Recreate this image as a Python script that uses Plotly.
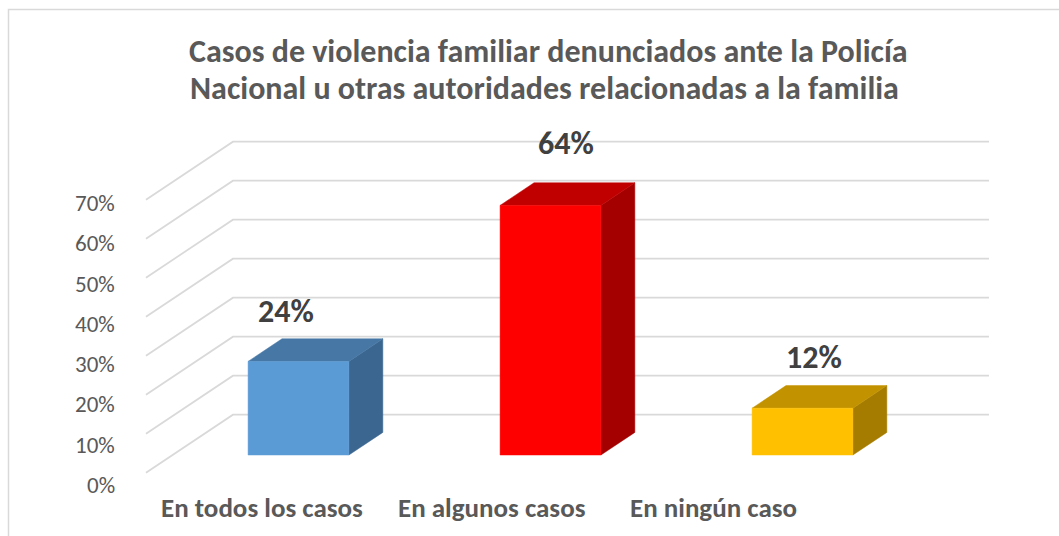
import plotly.graph_objects as go

# ---------------- data ----------------
categories = ["En todos los casos", "En algunos casos", "En ningún caso"]
values = [24, 64, 12]                       # percent
data_labels = ["24%", "64%", "12%"]
y_ticks = [0, 10, 20, 30, 40, 50, 60, 70]
y_tick_labels = ["0%", "10%", "20%", "30%", "40%", "50%", "60%", "70%"]
title_lines = ["Casos de violencia familiar denunciados ante la Policía",
               "Nacional u otras autoridades relacionadas a la familia"]

# ---------------- style ----------------
front_colors = ["#5B9BD5", "#FF0000", "#FFC000"]
top_colors = ["#4677A5", "#C00000", "#C39200"]
side_colors = ["#3A6690", "#A40000", "#A67C00"]
FONT = "Carlito, Calibri, Lato, 'Open Sans', sans-serif"
GRID_COLOR = "#D9D9D9"
TEXT_GREY = "#595959"
LABEL_GREY = "#404040"

W, H = 1059, 536
PX_PER_CAT = 252.0      # pixels between categories
PX_PER_PCT = 3.9        # pixels per 1 %
X0_PX = 298.5           # pixel x of category 0 (front face centre)
Y0_PX = 455.0           # pixel y of 0 % on the bars' front plane

# pseudo-3D geometry (depth 0 = front of floor, 1 = back wall)
DX = 87 / PX_PER_CAT    # full depth shift in x (data units)
DY = 58 / PX_PER_PCT    # full depth shift in y (data units)
F0 = 0.305              # depth of bar front faces
BAR_DEPTH = 0.39
BAR_W = 0.40

# label nudges (pixels), styling only
data_label_shift = [(-12.5, 50), (15.5, 62), (11, 51)]
cat_label_shift = [(-37, -52), (-59, -52), (-89, -52)]
title_line_px = [(548, 51), (544, 88)]


def proj(x, v, d):
    return x + (d - F0) * DX, v + (d - F0) * DY


fig = go.Figure()

# back wall / side wall gridlines
gx, gy = [], []
n = len(categories)
for t in y_ticks:
    for (x, d) in [(-0.5, 0.0), (-0.5, 1.0), (n - 0.5, 1.0)]:
        px, py = proj(x, t, d)
        gx.append(px)
        gy.append(py)
    gx.append(None)
    gy.append(None)
fig.add_trace(go.Scatter(x=gx, y=gy, mode="lines",
                         line=dict(color=GRID_COLOR, width=1.7),
                         hoverinfo="skip", showlegend=False))

# bars: side, top, front faces
for i, v in enumerate(values):
    x0, x1 = i - BAR_W / 2, i + BAR_W / 2
    d0, d1 = F0, F0 + BAR_DEPTH
    faces = [
        ([(x1, 0, d0), (x1, 0, d1), (x1, v, d1), (x1, v, d0)], side_colors[i]),
        ([(x0, v, d0), (x1, v, d0), (x1, v, d1), (x0, v, d1)], top_colors[i]),
        ([(x0, 0, d0), (x1, 0, d0), (x1, v, d0), (x0, v, d0)], front_colors[i]),
    ]
    for pts, col in faces:
        xs, ys = zip(*[proj(*p) for p in pts])
        fig.add_trace(go.Scatter(x=list(xs) + [xs[0]], y=list(ys) + [ys[0]],
                                 mode="lines", fill="toself", fillcolor=col,
                                 line=dict(color=col, width=0.5),
                                 hoverinfo="skip", showlegend=False))

annotations = []
# data labels
for i, v in enumerate(values):
    annotations.append(dict(x=i, y=v, xref="x", yref="y", text=data_labels[i],
                            showarrow=False, xanchor="center", yanchor="middle",
                            xshift=data_label_shift[i][0], yshift=data_label_shift[i][1],
                            font=dict(family=FONT, size=32, color=LABEL_GREY, weight="bold")))
# category labels
for i, c in enumerate(categories):
    annotations.append(dict(x=i, y=0, xref="x", yref="y", text=c,
                            showarrow=False, xanchor="center", yanchor="middle",
                            xshift=cat_label_shift[i][0], yshift=cat_label_shift[i][1],
                            font=dict(family=FONT, size=27, color=TEXT_GREY, weight="bold")))
# y tick labels (placed along the front edge of the left wall)
TICK_SPREAD = 4.03 / PX_PER_PCT
TICK_SHIFT = -30 / PX_PER_PCT
for t, lab in zip(y_ticks, y_tick_labels):
    annotations.append(dict(x=(117 - X0_PX) / PX_PER_CAT, y=t * TICK_SPREAD + TICK_SHIFT,
                            xref="x", yref="y", text=lab, showarrow=False,
                            xanchor="right", yanchor="middle",
                            font=dict(family=FONT, size=23, color=TEXT_GREY)))
# title (two lines)
for line, (tx, ty) in zip(title_lines, title_line_px):
    annotations.append(dict(x=tx / W, y=1 - ty / H, xref="paper", yref="paper",
                            text=line, showarrow=False, xanchor="center",
                            yanchor="middle",
                            font=dict(family=FONT, size=32, color=TEXT_GREY, weight="bold")))

fig.update_layout(
    width=W, height=H, autosize=False,
    margin=dict(l=0, r=0, t=0, b=0),
    paper_bgcolor="white", plot_bgcolor="white",
    xaxis=dict(range=[-X0_PX / PX_PER_CAT, (W - X0_PX) / PX_PER_CAT],
               visible=False, fixedrange=True),
    yaxis=dict(range=[(Y0_PX - H) / PX_PER_PCT, Y0_PX / PX_PER_PCT],
               visible=False, fixedrange=True),
    annotations=annotations,
    shapes=[dict(type="rect", xref="paper", yref="paper",
                 x0=8.5 / W, x1=1.02, y0=-0.02, y1=1 - 9.5 / H,
                 line=dict(color=GRID_COLOR, width=1.5), layer="below")],
    showlegend=False,
)

fig.write_html("out.html",
               config={"displayModeBar": False, "staticPlot": True},
               post_script="document.body.style.margin='0';document.body.style.padding='0';")
